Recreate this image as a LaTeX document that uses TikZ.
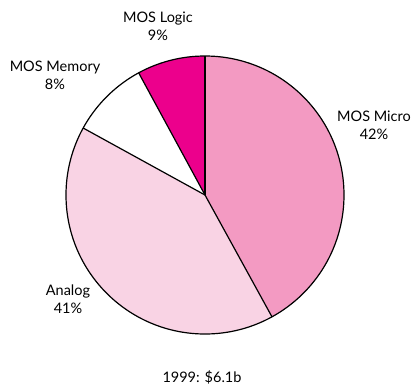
\documentclass[tikz,border=0pt]{standalone}
\usepackage{fontspec}
\setmainfont{Lato}
\definecolor{micro}{HTML}{F39AC2}
\definecolor{analog}{HTML}{F9D3E4}
\definecolor{logic}{HTML}{EC008C}
\begin{document}
\begin{tikzpicture}[x=1pt,y=-1pt,
  slice/.style={draw=black,line width=1.2pt,line join=round},
  lbl/.style={font=\fontsize{14.5}{18}\selectfont,align=center,inner sep=0pt}]
\useasboundingbox (0,0) rectangle (413,384);
\coordinate (c) at (205,195);
\def\R{139}
\fill[micro] (c) -- ++(90:-\R) arc[start angle=-90,end angle=61.2,radius=\R] -- cycle;
\fill[analog] (c) -- ++(61.2:\R) arc[start angle=61.2,end angle=208.8,radius=\R] -- cycle;
\fill[white] (c) -- ++(208.8:\R) arc[start angle=208.8,end angle=241.5,radius=\R] -- cycle;
\fill[logic] (c) -- ++(241.5:\R) arc[start angle=241.5,end angle=270,radius=\R] -- cycle;
\draw[slice] (c) circle[radius=\R];
\draw[slice] (c) -- ++(270:\R);
\draw[slice] (c) -- ++(61.2:\R);
\draw[slice] (c) -- ++(208.8:\R);
\draw[slice] (c) -- ++(241.5:\R);
\node[lbl] (logic) at (158,26) {MOS Logic\\9\%};
\node[lbl] (memory) at (55,75) {MOS Memory\\8\%};
\node[lbl] (micro) at (374,125) {MOS Micro\\42\%};
\node[lbl] (analog) at (68,299) {Analog\\41\%};
\node[lbl] (year) at (202,377) {1999: \$6.1b};
\end{tikzpicture}
\end{document}
